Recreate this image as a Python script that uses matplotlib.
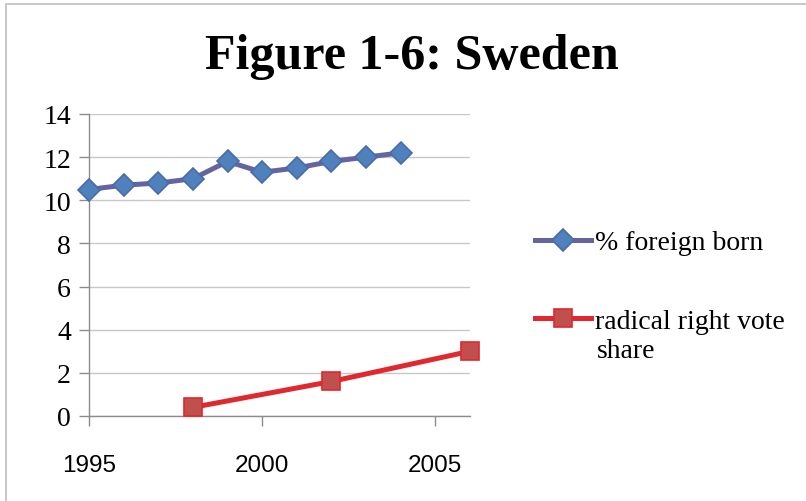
import matplotlib.pyplot as plt
from matplotlib.patches import Rectangle

# data
years_fb = [1995, 1996, 1997, 1998, 1999, 2000, 2001, 2002, 2003, 2004]
foreign_born = [10.5, 10.7, 10.8, 11.0, 11.8, 11.3, 11.5, 11.8, 12.0, 12.2]
years_rr = [1998, 2002, 2006]
radical_right = [0.4, 1.6, 3.0]

x_ticks = [1995, 2000, 2005]
y_ticks = [0, 2, 4, 6, 8, 10, 12, 14]

fig = plt.figure(figsize=(8.06, 5.02), dpi=100)
# outer chart frame (only top/left visible in the crop)
fig.patches.append(Rectangle((6 / 806, -0.1), 1.2, 1.1 - 5 / 502,
                             transform=fig.transFigure, fill=False,
                             edgecolor='#bfbfbf', linewidth=1.2))

ax = fig.add_axes([89 / 806, 1 - 417 / 502, 381 / 806, 302 / 502])

ax.plot(years_fb, foreign_born, color='#6464a0', linewidth=3.6,
        marker='D', markersize=11, markerfacecolor='#4f81bd',
        markeredgecolor='#4a6aa8', markeredgewidth=1.2,
        label='% foreign born', clip_on=False, zorder=3)
ax.plot(years_rr, radical_right, color='#e0282f', linewidth=3.6,
        marker='s', markersize=13, markerfacecolor='#c0504d',
        markeredgecolor='#e0282f', markeredgewidth=1.2,
        label='radical right vote', clip_on=False, zorder=3)

ax.set_xlim(1995, 2006)
ax.set_ylim(0, 14)
ax.set_xticks(x_ticks)
ax.set_yticks(y_ticks)
ax.grid(axis='y', color='#c8c8c8', linewidth=1)
ax.set_axisbelow(True)
for s in ['top', 'right']:
    ax.spines[s].set_visible(False)
for s in ['left', 'bottom']:
    ax.spines[s].set_color('#8c8c8c')
    ax.spines[s].set_linewidth(1)
ax.tick_params(axis='both', length=7, width=1, color='#8c8c8c', pad=6)
ax.tick_params(axis='x', pad=20)

for lab in ax.get_yticklabels():
    lab.set_fontfamily('Liberation Serif')
    lab.set_fontsize(20)
for lab in ax.get_xticklabels():
    lab.set_fontfamily('Liberation Sans')
    lab.set_fontsize(17.5)

fig.text(0.5106, 1 - 57 / 502, 'Figure 1-6: Sweden', ha='center', va='center',
         fontfamily='Liberation Serif', fontweight='bold', fontsize=36)

leg = fig.legend(loc='upper left', bbox_to_anchor=(535 / 806, 1 - 231 / 502),
                 frameon=False, prop={'family': 'Liberation Serif', 'size': 20},
                 handlelength=2.0, handletextpad=0.15, labelspacing=1.9,
                 borderaxespad=0, borderpad=0)
# second line of the wrapped legend label
fig.text(597 / 806, 1 - 352 / 502, 'share', ha='left', va='center',
         fontfamily='Liberation Serif', fontsize=20)

fig.savefig('out.png', dpi=100)
